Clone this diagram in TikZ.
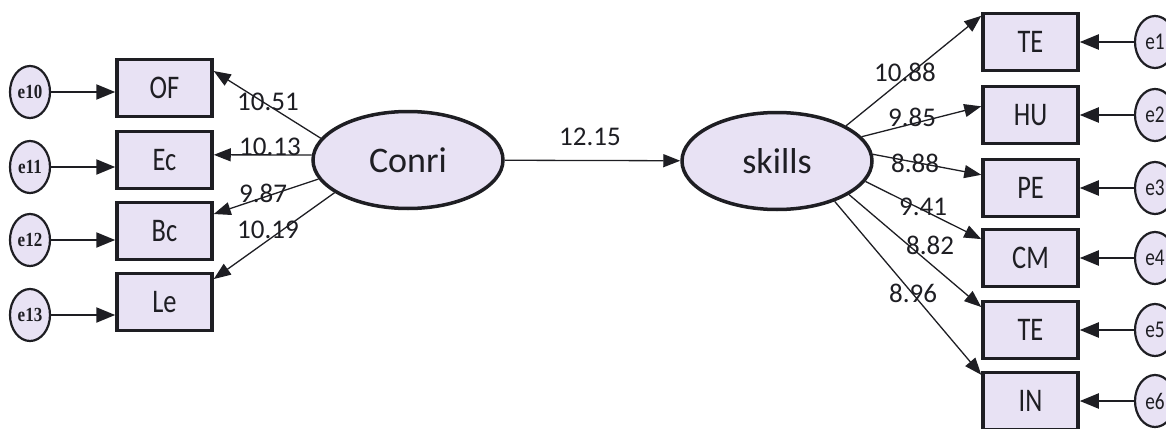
\documentclass[tikz,border=0pt]{standalone}
\usepackage{fontspec}
\setmainfont{Carlito}
\newfontfamily\boxfont[FakeStretch=0.8]{Carlito}
\newfontfamily\errfont[FakeStretch=0.85]{Liberation Serif}
\usetikzlibrary{shapes.geometric,arrows.meta}
\definecolor{lilac}{RGB}{232,226,244}
\definecolor{ink}{RGB}{30,30,35}
\begin{document}
\begin{tikzpicture}[x=1pt,y=-1pt,
  obsbox/.style={draw=ink,line width=3.5pt,fill=lilac,minimum width=95pt,minimum height=57pt,
    inner sep=0pt,font=\boxfont\fontsize{33}{33}\selectfont,text=ink},
  latent/.style={ellipse,draw=ink,line width=3.5pt,fill=lilac,minimum width=190pt,minimum height=97pt,
    inner sep=0pt,font=\fontsize{36}{36}\selectfont,text=ink},
  errl/.style={ellipse,draw=ink,line width=2.2pt,fill=lilac,minimum width=40pt,minimum height=52pt,
    inner sep=0pt,font=\errfont\bfseries\fontsize{20}{20}\selectfont,text=ink},
  errr/.style={ellipse,draw=ink,line width=2.2pt,fill=lilac,minimum width=40pt,minimum height=52pt,
    inner sep=0pt,font=\boxfont\fontsize{24}{24}\selectfont,text=ink},
  load/.style={font=\fontsize{27}{27}\selectfont,text=ink,inner sep=0pt},
  path/.style={draw=ink,line width=1.3pt,-{Triangle[length=17pt,width=13pt]}},
  errpath/.style={draw=ink,line width=2.2pt,-{Triangle[length=19pt,width=15pt]}}]

  \clip (0,0) rectangle (1166,428);

  % latent variables
  \node[latent] at(408,160)(conri){Conri};
  \node[latent] at(777,161)(skills){skills};

  % left indicators
  \node[obsbox] at(164.5,88)(of){OF};
  \node[obsbox] at(164.5,160)(ec){Ec};
  \node[obsbox] at(164.5,231)(bc){Bc};
  \node[obsbox] at(164.5,302)(le){Le};

  \node[errl] at(30,92)(e10){e10};
  \node[errl] at(30,167)(e11){e11};
  \node[errl] at(30,240)(e12){e12};
  \node[errl] at(30,315)(e13){e13};

  % right indicators
  \node[obsbox] at(1030.5,42)(te1){TE};
  \node[obsbox] at(1030.5,115)(hu){HU};
  \node[obsbox] at(1030.5,188)(pe){PE};
  \node[obsbox] at(1030.5,258)(cm){CM};
  \node[obsbox] at(1030.5,330)(te2){TE};
  \node[obsbox] at(1030.5,401)(in){IN};

  \node[errr] at(1155,42)(e1){e1};
  \node[errr] at(1155,115)(e2){e2};
  \node[errr] at(1155,188)(e3){e3};
  \node[errr] at(1155,258)(e4){e4};
  \node[errr] at(1155,330)(e5){e5};
  \node[errr] at(1155,401)(e6){e6};

  % structural path
  \draw[path] (conri) -- (skills);
  \node[load] at(590,137)(w0){12.15};

  % Conri loadings
  \draw[path] (conri.166) -- (of.19);
  \draw[path] (conri.177) -- (ec.6);
  \draw[path] (conri.192) -- (bc.19);
  \draw[path] (conri.204) -- (le.25);

  \node[load] at(268,102)(w10){10.51};
  \node[load] at(270,147)(w11){10.13};
  \node[load] at(263,193)(w12){9.87};
  \node[load] at(268,230)(w13){10.19};

  % skills loadings
  \draw[path] (skills.27) -- (te1.152);
  \draw[path] (skills.16) -- (hu.170);
  \draw[path] (skills.4) -- (pe.165);
  \draw[path] (skills.-13) -- (cm.159);
  \draw[path] (skills.-25) -- (te2.155);
  \draw[path] (skills.-35) -- (in.152);

  \node[load] at(905,72)(w1){10.88};
  \node[load] at(912,117)(w2){9.85};
  \node[load] at(915,163)(w3){8.88};
  \node[load] at(923,207)(w4){9.41};
  \node[load] at(930,245)(w5){8.82};
  \node[load] at(913,293)(w6){8.96};

  % error terms
  \draw[errpath] (e10) -- (e10 -| of.west);
  \draw[errpath] (e11) -- (e11 -| ec.west);
  \draw[errpath] (e12) -- (e12 -| bc.west);
  \draw[errpath] (e13) -- (e13 -| le.west);

  \draw[errpath] (e1) -- (te1);
  \draw[errpath] (e2) -- (hu);
  \draw[errpath] (e3) -- (pe);
  \draw[errpath] (e4) -- (cm);
  \draw[errpath] (e5) -- (te2);
  \draw[errpath] (e6) -- (in);

\end{tikzpicture}
\end{document}
